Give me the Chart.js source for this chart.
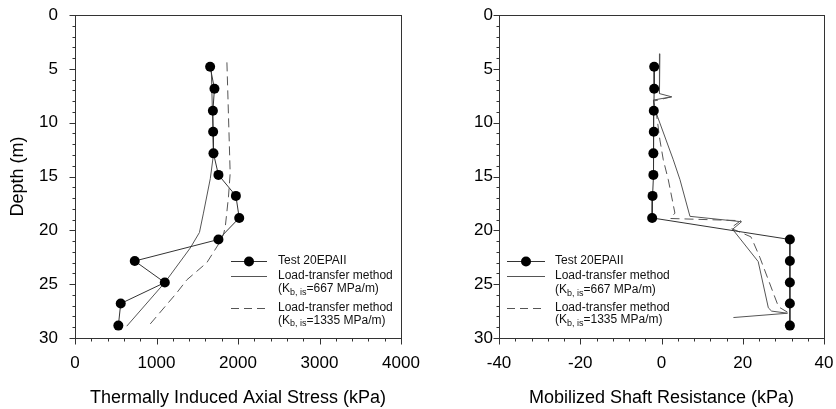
<!DOCTYPE html>
<html><head><meta charset="utf-8">
<script src="https://cdn.jsdelivr.net/npm/chart.js@4.4.0/dist/chart.umd.min.js"></script>
<style>
html,body{margin:0;padding:0;background:#fff;}
#wrap{position:relative;width:836px;height:409px;overflow:hidden;background:#fff;}
canvas{position:absolute;top:0;}
#c1{left:0;}
#c2{left:436px;}
</style></head><body>
<div id="wrap"><canvas id="c1" width="436" height="409"></canvas><canvas id="c2" width="400" height="409"></canvas></div>
<script>
// ---------- data ----------
const testDepth   = [4.8, 6.85, 8.9, 10.85, 12.85, 14.85, 16.8, 18.85, 20.85, 22.85, 24.85, 26.8, 28.85];
const testStress  = [1658, 1711, 1692, 1695, 1699, 1760, 1974, 2015, 1760, 733, 1102, 561, 532];
const testShaft   = [-1.8, -1.8, -1.9, -1.9, -2.0, -2.0, -2.2, -2.3, 31.6, 31.6, 31.6, 31.6, 31.6];

const lt667StressDepth  = [4.4, 12.9, 15.2, 18.4, 20.2, 21.65, 24.85, 28.9];
const lt667Stress       = [1670, 1700, 1660, 1576, 1527, 1413, 1102, 635];
const lt1335StressDepth = [4.4, 14.7, 16.9, 19.6, 20.4, 21.3, 23.0, 24.6, 25.8, 28.9];
const lt1335Stress      = [1864, 1904, 1883, 1845, 1822, 1760, 1618, 1372, 1249, 900];

const lt667ShaftDepth  = [3.6, 5.2, 7.3, 7.6, 7.9, 8.8, 13.45, 15.3, 18.7, 19.2, 19.9, 22.9, 27.2, 27.5, 27.7, 28.1];
const lt667Shaft       = [-0.4, -0.4, -0.6, 2.5, -2.0, -1.6, 2.9, 4.55, 7.0, 19.7, 17.5, 23.8, 26.3, 27.1, 31.0, 17.7];
const lt1335ShaftDepth = [7.6, 8.0, 9.0, 11.6, 13.45, 15.3, 18.4, 18.9, 19.1, 19.8, 20.6, 21.1, 22.5, 27.1, 27.6];
const lt1335Shaft      = [2.5, -2.0, -1.3, -0.4, 0.44, 1.67, 3.3, 2.2, 19.5, 17.0, 22.0, 22.6, 24.2, 28.8, 31.0];

const depthTicks  = [0, 5, 10, 15, 20, 25, 30];
const stressTicks = [0, 1000, 2000, 3000, 4000];
const shaftTicks  = [-40, -20, 0, 20, 40];

const legendTest = 'Test 20EPAII';
const legendLT   = 'Load-transfer method';
const legendK667 = ['(K', 'b, is', '=667 MPa/m)'];
const legendK1335 = ['(K', 'b, is', '=1335 MPa/m)'];

const xTitleLeft  = 'Thermally Induced Axial Stress (kPa)';
const xTitleRight = 'Mobilized Shaft Resistance (kPa)';
const yTitle      = 'Depth (m)';

// ---------- helpers ----------
const FONT = "'Liberation Sans', Arial, sans-serif";
Chart.defaults.font.family = FONT;
Chart.defaults.color = '#000';
const pts = (xs, ys) => xs.map((v, i) => ({x: v, y: ys[i]}));
const AX = '#333';

function framePlugin(minorX, minorY) {
  return {
    id: 'frame',
    afterDraw(chart) {
      const {ctx, chartArea: a, scales: {x, y}} = chart;
      ctx.save();
      ctx.strokeStyle = AX; ctx.lineWidth = 1;
      const L = Math.round(a.left) + 0.5, R = Math.round(a.right) + 0.5;
      const T = Math.round(a.top) + 0.5, B = Math.round(a.bottom) + 0.5;
      ctx.strokeRect(L, T, R - L, B - T);
      ctx.beginPath();
      for (let v = x.min; v <= x.max + 1e-9; v += minorX) {
        const px = Math.round(x.getPixelForValue(v)) + 0.5;
        ctx.moveTo(px, B); ctx.lineTo(px, B + 3);
      }
      for (let v = y.min; v <= y.max + 1e-9; v += minorY) {
        const py = Math.round(y.getPixelForValue(v)) + 0.5;
        ctx.moveTo(L, py); ctx.lineTo(L - 3, py);
      }
      for (const t of x.ticks) {
        const px = Math.round(x.getPixelForValue(t.value)) + 0.5;
        ctx.moveTo(px, B); ctx.lineTo(px, B + 6);
      }
      for (const t of y.ticks) {
        const py = Math.round(y.getPixelForValue(t.value)) + 0.5;
        ctx.moveTo(L, py); ctx.lineTo(L - 6, py);
      }
      ctx.stroke();
      ctx.restore();
    }
  };
}

function kText(ctx, parts, x, y) {
  ctx.font = '12px ' + FONT;
  ctx.fillText(parts[0], x, y);
  let w = ctx.measureText(parts[0]).width;
  ctx.font = '9px ' + FONT;
  ctx.fillText(parts[1], x + w, y + 3.5);
  w += ctx.measureText(parts[1]).width;
  ctx.font = '12px ' + FONT;
  ctx.fillText(parts[2], x + w, y);
}

function legendPlugin(o) {
  return {
    id: 'customLegend',
    afterDraw(chart) {
      const ctx = chart.ctx;
      ctx.save();
      ctx.textBaseline = 'middle';
      ctx.fillStyle = '#111';
      ctx.lineWidth = 1;
      const r = o.rows;
      ctx.strokeStyle = '#333';
      ctx.beginPath(); ctx.moveTo(o.x0, r[0] + 0.5); ctx.lineTo(o.x1, r[0] + 0.5); ctx.stroke();
      ctx.fillStyle = '#000';
      ctx.beginPath(); ctx.arc((o.x0 + o.x1) / 2, r[0] + 0.5, 5, 0, Math.PI * 2); ctx.fill();
      ctx.fillStyle = '#111';
      ctx.font = '12px ' + FONT;
      ctx.fillText(legendTest, o.tx, r[0]);
      ctx.strokeStyle = '#555';
      ctx.beginPath(); ctx.moveTo(o.x0, o.s1 + 0.5); ctx.lineTo(o.x1, o.s1 + 0.5); ctx.stroke();
      ctx.fillText(legendLT, o.tx, r[1]);
      kText(ctx, legendK667, o.tx, r[2]);
      ctx.setLineDash([8, 5]);
      ctx.beginPath(); ctx.moveTo(o.x0, o.s2 + 0.5); ctx.lineTo(o.x1, o.s2 + 0.5); ctx.stroke();
      ctx.setLineDash([]);
      ctx.font = '12px ' + FONT;
      ctx.fillText(legendLT, o.tx, r[3]);
      kText(ctx, legendK1335, o.tx, r[4]);
      ctx.restore();
    }
  };
}

function makeChart(id, cfg) {
  const xs = cfg.xTicks;
  return new Chart(document.getElementById(id), {
    type: 'scatter',
    data: {
      datasets: [
        { data: pts(cfg.test, testDepth), showLine: true, borderColor: '#333', borderWidth: 1,
          pointRadius: 5, pointBackgroundColor: '#000', pointBorderColor: '#000', pointBorderWidth: 0 },
        { data: pts(cfg.s667, cfg.d667), showLine: true, borderColor: '#555', borderWidth: 1, pointRadius: 0 },
        { data: pts(cfg.s1335, cfg.d1335), showLine: true, borderColor: '#555', borderWidth: 1,
          borderDash: [9, 5], pointRadius: 0 }
      ]
    },
    options: {
      responsive: false, animation: false, events: [],
      layout: { padding: { top: 15, right: cfg.padRight, left: 0, bottom: 0 } },
      plugins: { legend: { display: false }, tooltip: { enabled: false } },
      scales: {
        x: {
          type: 'linear', position: 'bottom', min: xs[0], max: xs[xs.length - 1],
          afterBuildTicks: s => { s.ticks = xs.map(v => ({value: v})); },
          afterFit: s => { s.height = 71; },
          ticks: { font: { size: 17 }, color: '#000', padding: 0, maxRotation: 0, autoSkip: false,
                   callback: v => String(v) },
          grid: { display: true, drawOnChartArea: false, drawTicks: true, tickLength: 15,
                  color: 'rgba(0,0,0,0)', tickColor: 'rgba(0,0,0,0)' },
          border: { display: false },
          title: { display: true, text: cfg.xTitle, font: { size: 18 }, color: '#000', padding: { top: 0, bottom: 0 } }
        },
        y: {
          type: 'linear', position: 'left', min: 0, max: 30, reverse: true,
          afterBuildTicks: s => { s.ticks = depthTicks.map(v => ({value: v})); },
          afterFit: s => { s.width = cfg.yWidth; },
          ticks: { font: { size: 17 }, color: '#000', padding: 0, autoSkip: false, callback: v => String(v) },
          grid: { display: true, drawOnChartArea: false, drawTicks: true, tickLength: cfg.yTick,
                  color: 'rgba(0,0,0,0)', tickColor: 'rgba(0,0,0,0)' },
          border: { display: false },
          title: { display: cfg.yTitle !== null, text: cfg.yTitle || '', font: { size: 18 }, color: '#000',
                   padding: { top: 7, bottom: 0 } }
        }
      }
    },
    plugins: [framePlugin(cfg.minorX, 1), legendPlugin(cfg.legend)]
  });
}

makeChart('c1', {
  test: testStress, s667: lt667Stress, d667: lt667StressDepth, s1335: lt1335Stress, d1335: lt1335StressDepth,
  xTicks: stressTicks, xTitle: xTitleLeft, yTitle: yTitle, yWidth: 75, yTick: 17, padRight: 35, minorX: 200,
  legend: { x0: 231, x1: 267, tx: 278, s1: 276, s2: 308, rows: [261, 275.5, 289, 308, 320.5] }
});
makeChart('c2', {
  test: testShaft, s667: lt667Shaft, d667: lt667ShaftDepth, s1335: lt1335Shaft, d1335: lt1335ShaftDepth,
  xTicks: shaftTicks, xTitle: xTitleRight, yTitle: null, yWidth: 63, yTick: 6, padRight: 12, minorX: 4,
  legend: { x0: 71, x1: 109, tx: 119, s1: 276, s2: 308, rows: [261, 276, 290, 308, 320] }
});
</script>
</body></html>
